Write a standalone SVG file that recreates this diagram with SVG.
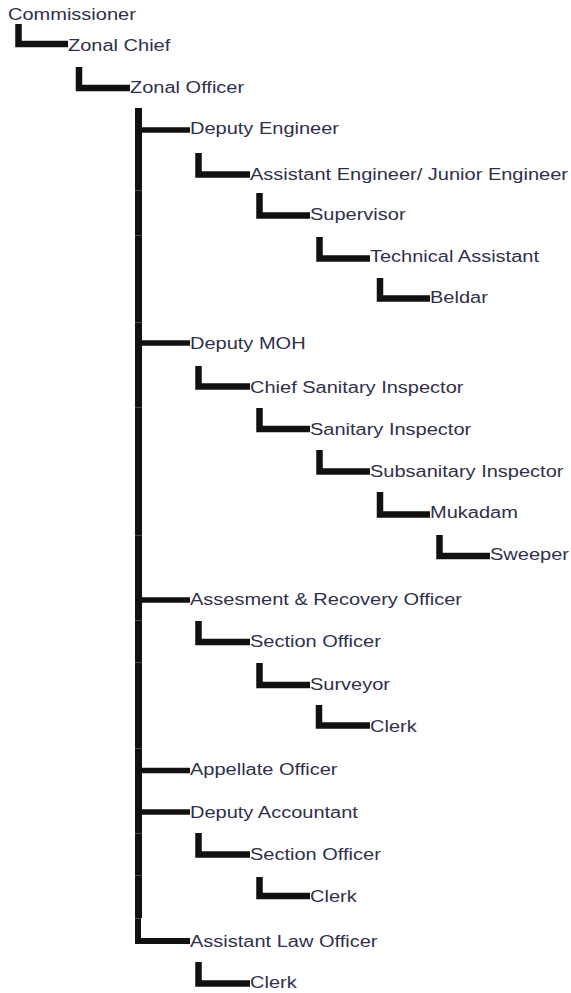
<svg xmlns="http://www.w3.org/2000/svg" width="571" height="993" viewBox="0 0 571 993">
<style>
.t{font-family:"Liberation Sans",Arial,sans-serif;font-size:16px;fill:#30304a}
.c{fill:none;stroke:#111;stroke-width:6.5;stroke-linejoin:miter;stroke-linecap:butt}
.k{fill:none;stroke:#111;stroke-width:7;stroke-linecap:butt}
.h{fill:none;stroke:#111;stroke-width:5.5;stroke-linecap:butt}
</style>
<rect width="571" height="993" fill="#fff"/>
<g id="connectors">
<path class="c" d="M18.5,24V44H68"/>
<path class="c" d="M79,67V88H130"/>
<path class="k" d="M138.5,108V190M138.5,190.3V235M138.5,235.3V322M138.5,322.3V407M138.5,407.3V535M138.5,535.3V620M138.5,620.3V662M138.5,662.3V748M138.5,748.3V833M138.5,833.3V875M138.5,875.3V918"/>
<path class="c" d="M138,918.3V941H190" style="stroke-width:6"/>
<path class="h" d="M142,130H190M142,343H190M142,600H190M142,770.5H190M142,812H190"/>
<path class="c" d="M198.5,153V174.5H250"/>
<path class="c" d="M259.5,193V215.5H310"/>
<path class="c" d="M319.5,237V258.5H370"/>
<path class="c" d="M380,278V298.5H430"/>
<path class="c" d="M198.5,366V386.5H250"/>
<path class="c" d="M259.5,408V429H310"/>
<path class="c" d="M319.5,450V471.5H370"/>
<path class="c" d="M380,492V514.5H430"/>
<path class="c" d="M439.5,535V556H490"/>
<path class="c" d="M198.5,621V642H250"/>
<path class="c" d="M259.5,663V685H310"/>
<path class="c" d="M319,705V725.5H370"/>
<path class="c" d="M198.5,833V854.5H250"/>
<path class="c" d="M259.5,877V896H310"/>
<path class="c" d="M198.5,962V983.5H250"/>
</g>
<g id="n-commissioner"><text class="t" transform="translate(8,20) scale(1.25,1)">Commissioner</text></g>
<g id="n-zonal-chief"><text class="t" transform="translate(68,51) scale(1.25,1)">Zonal Chief</text></g>
<g id="n-zonal-officer"><text class="t" transform="translate(130,93) scale(1.25,1)">Zonal Officer</text></g>
<g id="n-deputy-engineer"><text class="t" transform="translate(190,134) scale(1.25,1)">Deputy Engineer</text></g>
<g id="n-assistant-engineer"><text class="t" transform="translate(250,180) scale(1.25,1)">Assistant Engineer/ Junior Engineer</text></g>
<g id="n-supervisor"><text class="t" transform="translate(310,220) scale(1.25,1)">Supervisor</text></g>
<g id="n-technical-assistant"><text class="t" transform="translate(370,262) scale(1.25,1)">Technical Assistant</text></g>
<g id="n-beldar"><text class="t" transform="translate(430,303) scale(1.25,1)">Beldar</text></g>
<g id="n-deputy-moh"><text class="t" transform="translate(190,349) scale(1.25,1)">Deputy MOH</text></g>
<g id="n-chief-sanitary-inspector"><text class="t" transform="translate(250,393) scale(1.25,1)">Chief Sanitary Inspector</text></g>
<g id="n-sanitary-inspector"><text class="t" transform="translate(310,435) scale(1.25,1)">Sanitary Inspector</text></g>
<g id="n-subsanitary-inspector"><text class="t" transform="translate(370,477) scale(1.25,1)">Subsanitary Inspector</text></g>
<g id="n-mukadam"><text class="t" transform="translate(430,518) scale(1.25,1)">Mukadam</text></g>
<g id="n-sweeper"><text class="t" transform="translate(490,560) scale(1.25,1)">Sweeper</text></g>
<g id="n-assesment-recovery-officer"><text class="t" transform="translate(190,605) scale(1.25,1)">Assesment &amp; Recovery Officer</text></g>
<g id="n-section-officer-1"><text class="t" transform="translate(250,647) scale(1.25,1)">Section Officer</text></g>
<g id="n-surveyor"><text class="t" transform="translate(310,690) scale(1.25,1)">Surveyor</text></g>
<g id="n-clerk-1"><text class="t" transform="translate(370,732) scale(1.25,1)">Clerk</text></g>
<g id="n-appellate-officer"><text class="t" transform="translate(190,775) scale(1.25,1)">Appellate Officer</text></g>
<g id="n-deputy-accountant"><text class="t" transform="translate(190,818) scale(1.25,1)">Deputy Accountant</text></g>
<g id="n-section-officer-2"><text class="t" transform="translate(250,860) scale(1.25,1)">Section Officer</text></g>
<g id="n-clerk-2"><text class="t" transform="translate(310,902) scale(1.25,1)">Clerk</text></g>
<g id="n-assistant-law-officer"><text class="t" transform="translate(190,947) scale(1.25,1)">Assistant Law Officer</text></g>
<g id="n-clerk-3"><text class="t" transform="translate(250,988) scale(1.25,1)">Clerk</text></g>
</svg>
